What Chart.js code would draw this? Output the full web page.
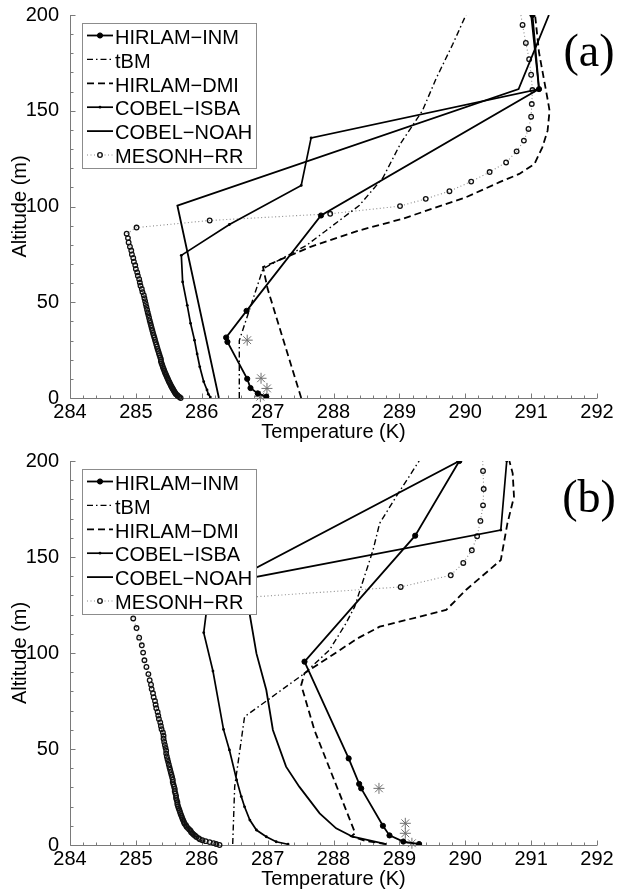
<!DOCTYPE html>
<html>
<head>
<meta charset="utf-8">
<script src="https://cdn.jsdelivr.net/npm/chart.js@4.4.1/dist/chart.umd.min.js"></script>
<style>
  html, body { margin: 0; padding: 0; background: #fff; }
  .panel { position: absolute; left: 0; width: 617px; }
  #wrapA { top: 0; height: 445px; }
  #wrapB { top: 445px; height: 446px; }
</style>
</head>
<body>
<div class="panel" id="wrapA"><canvas id="chartA" width="617" height="445"></canvas></div>
<div class="panel" id="wrapB"><canvas id="chartB" width="617" height="446"></canvas></div>
<script>
/* Temperature profiles, panels (a) and (b) */

const names = ['HIRLAM\u2212INM', 'tBM', 'HIRLAM\u2212DMI', 'COBEL\u2212ISBA', 'COBEL\u2212NOAH', 'MESONH\u2212RR'];
const xTicks = [284, 285, 286, 287, 288, 289, 290, 291, 292];
const yTicks = [0, 50, 100, 150, 200];

// ---- panel (a) ----
const inmA_T = [286.98, 286.85, 286.74, 286.69, 286.39, 286.37, 286.68, 287.81, 291.12, 291.02];
const inmA_z = [0.7, 2.4, 5.2, 10.0, 29.3, 31.6, 45.5, 95.3, 161.3, 200];
const tbmA_T = [286.57, 286.57, 286.93, 287.28, 287.59, 287.89, 288.39, 288.75, 289.02, 289.35, 289.56, 289.81, 290.01];
const tbmA_z = [0, 30, 67.5, 74, 79.7, 87.5, 100.5, 115, 133, 150, 167, 184.7, 200];
const dmiA_T = [287.51, 287.0, 286.93, 287.64, 288.39, 289.05, 290.01, 290.52, 290.82, 291.05, 291.17, 291.25, 291.28, 291.25, 291.12, 291.06];
const dmiA_z = [0, 57, 68.4, 78.8, 87.5, 93.6, 104.8, 112.7, 117, 122.2, 130.9, 139.6, 150, 156, 180.4, 200];
const isbaA_T = [286.13, 286.10, 286.08, 286.03, 285.97, 285.93, 285.89, 285.83, 285.78, 285.71, 285.69, 286.42, 287.51, 287.66, 291.12, 291.0];
const isbaA_z = [0.5, 2, 4.2, 8.5, 16.3, 23, 30.2, 39, 48.4, 60.6, 74.5, 90.6, 111, 135.8, 161.3, 200];
const noahA_T = [286.26, 285.63, 290.81, 291.27];
const noahA_z = [0, 100.5, 161.3, 200];

// MESONH-RR model levels (m), same for both panels
const mesoZ = [0, 0.5, 1, 1.5, 2, 2.5, 3, 3.6, 4.2, 4.8, 5.4, 6, 6.7, 7.4, 8.1, 8.8, 9.5, 10.3, 11.1, 11.9,
  12.7, 13.5, 14.4, 15.3, 16.2, 17.2, 18.2, 19.2, 20.2, 21.2, 22.3, 23.4, 24.5, 25.6, 26.8, 28, 29.2, 30.4,
  31.6, 32.8, 34, 35.3, 36.6, 37.9, 39.2, 40.5, 41.9, 43.3, 44.7, 46.1, 47.6, 49.1, 50.6, 52.1, 53.7, 55.3,
  56.9, 58.6, 60.3, 62, 63.8, 65.6, 67.4, 69.3, 71.2, 73.1, 75, 77, 79, 81.2, 83.5, 85.8,
  89, 92.7, 96.2, 100.2, 104, 108, 113, 118, 123, 128.8, 134.4, 140.5, 146.9, 153.5, 160.8, 168.8,
  176.9, 185.4, 194.8, 205];
const mesoA_T = [285.68, 285.66, 285.64, 285.63, 285.61, 285.60, 285.59, 285.58, 285.57, 285.56, 285.55, 285.54,
  285.53, 285.52, 285.51, 285.50, 285.49, 285.48, 285.47, 285.46, 285.45, 285.44, 285.43, 285.42, 285.41, 285.40,
  285.39, 285.38, 285.38, 285.37, 285.36, 285.35, 285.34, 285.33, 285.32, 285.31, 285.30, 285.29, 285.28, 285.27,
  285.26, 285.25, 285.24, 285.23, 285.22, 285.21, 285.20, 285.19, 285.18, 285.17, 285.16, 285.15, 285.14, 285.13,
  285.12, 285.10, 285.09, 285.07, 285.06, 285.05, 285.03, 285.02, 285.00, 284.99, 284.97, 284.96, 284.94, 284.93,
  284.91, 284.89, 284.88, 284.86,
  285.01, 286.12, 287.95, 289.01, 289.40, 289.76, 290.09, 290.37, 290.62, 290.78, 290.89, 290.96, 291.00, 291.01,
  291.02, 291.00, 290.97, 290.92, 290.87, 290.82];
const obsA_T = [286.69, 286.90, 286.99, 286.89];
const obsA_z = [30.2, 10.3, 5, 0.7];

// ---- panel (b) ----
const inmB_T = [289.3, 289.06, 288.85, 288.75, 288.42, 288.39, 288.23, 287.56, 289.24, 289.91];
const inmB_z = [0.5, 1.8, 5.0, 10.0, 29.5, 31.8, 45.1, 95.5, 161.1, 200];
const tbmB_T = [286.47, 286.5, 286.65, 287.56, 287.94, 288.19, 288.32, 288.6, 288.7, 288.95, 289.3];
const tbmB_z = [0.5, 30.4, 66.8, 89.4, 101.6, 115.5, 124, 153.6, 167.5, 181.4, 200];
const dmiB_T = [288.8, 288.5, 288.27, 288.33, 287.71, 287.51, 287.56, 288.37, 288.7, 289.71, 290.01, 290.54, 290.64, 290.74, 290.72, 290.67];
const dmiB_z = [0.5, 2, 4.5, 6.1, 59.9, 83.3, 89.4, 107.7, 113.7, 122.4, 132.8, 148.4, 167.5, 181.4, 193.6, 200];
const isbaB_T = [287.31, 287.13, 286.98, 286.83, 286.73, 286.65, 286.60, 286.53, 286.42, 286.33, 286.17, 286.03, 286.12, 290.54, 290.63];
const isbaB_z = [0.4, 1.7, 4.3, 7.8, 13, 19.9, 25.2, 33.9, 49.5, 60.2, 90.6, 110.6, 135, 164, 200];
const noahB_T = [288.8, 288.29, 288.04, 287.79, 287.48, 287.28, 287.08, 286.98, 286.83, 286.73, 286.6, 289.91];
const noahB_z = [0.5, 4.3, 8.7, 16.5, 30.4, 40.8, 59.9, 80.7, 99.8, 119.8, 140.2, 200];
const mesoB_T = [286.27, 286.22, 286.18, 286.12, 286.06, 286.01, 285.97, 285.95, 285.92, 285.90, 285.88, 285.86,
  285.84, 285.83, 285.81, 285.79, 285.77, 285.76, 285.74, 285.73, 285.72, 285.71, 285.70, 285.69, 285.68, 285.67,
  285.66, 285.65, 285.64, 285.63, 285.63, 285.62, 285.61, 285.61, 285.60, 285.59, 285.59, 285.58, 285.57, 285.56,
  285.56, 285.55, 285.54, 285.53, 285.52, 285.51, 285.50, 285.49, 285.48, 285.47, 285.46, 285.46, 285.45, 285.44,
  285.43, 285.42, 285.42, 285.41, 285.39, 285.38, 285.37, 285.35, 285.34, 285.33, 285.31, 285.30, 285.29, 285.27,
  285.26, 285.24, 285.23, 285.21,
  285.19, 285.16, 285.13, 285.11, 285.09, 285.05, 285.01, 284.96, 284.92, 286.60, 289.02, 289.78, 289.97, 290.10,
  290.18, 290.23, 290.27, 290.28, 290.27, 290.26];
const obsB_T = [288.69, 289.09, 289.09, 289.19];
const obsB_z = [29.5, 11.3, 6.1, 0.9];

const FONT = "'Liberation Sans', Arial, Helvetica, sans-serif";
Chart.defaults.font.family = FONT;
Chart.defaults.font.size = 20;
Chart.defaults.color = '#000';

function pts(T, z) {
  return T.map((t, i) => ({x: t, y: z[i]}));
}

function buildDatasets(inm, tbm, dmi, isba, noah, meso, obs) {
  const base = { showLine: true, borderColor: '#000', backgroundColor: '#000', pointRadius: 0, pointHoverRadius: 0 };
  return [
    { ...base, label: names[0], data: pts(inm[0], inm[1]), borderWidth: 1.8,
      pointRadius: 2.6, pointBackgroundColor: '#000', pointBorderColor: '#000', pointBorderWidth: 1 },
    { ...base, label: names[1], data: pts(tbm[0], tbm[1]), borderWidth: 1.4, borderDash: [6, 3, 1.5, 3] },
    { ...base, label: names[2], data: pts(dmi[0], dmi[1]), borderWidth: 1.8, borderDash: [7, 4] },
    { ...base, label: names[3], data: pts(isba[0], isba[1]), borderWidth: 1.7,
      pointRadius: 1.4, pointBackgroundColor: '#000', pointBorderColor: '#000', pointBorderWidth: 0 },
    { ...base, label: names[4], data: pts(noah[0], noah[1]), borderWidth: 1.8 },
    { ...base, label: names[5], data: pts(meso[0], meso[1]), borderWidth: 1.1, borderColor: '#8a8a8a',
      borderDash: [1, 2.5], pointRadius: 2.3, pointBorderWidth: 1.3, pointBorderColor: '#111',
      pointBackgroundColor: 'rgba(255,255,255,0)', clip: {left: 3, right: 3, top: 0, bottom: 4} },
    { label: '', data: pts(obs[0], obs[1]), showLine: false, pointStyle: 'star', pointRadius: 5.5,
      pointBorderColor: '#707070', pointBorderWidth: 1, pointHoverRadius: 0, clip: false }
  ];
}

// inward axis ticks, drawn under the curves
const axisTicks = {
  id: 'axisTicks',
  beforeDatasetsDraw(chart) {
    const {ctx, chartArea: ca, scales: {x, y}} = chart;
    ctx.save();
    ctx.strokeStyle = '#7a7a7a';
    ctx.lineWidth = 1;
    ctx.beginPath();
    const bx = Math.round(ca.left) + 0.5, by = Math.round(ca.bottom) + 0.5;
    ctx.moveTo(bx, ca.top);
    ctx.lineTo(bx, by);
    ctx.lineTo(ca.right, by);
    for (let i = 0; i <= 40; i++) {
      const px = Math.round(x.getPixelForValue(x.min + i * 0.2)) + 0.5;
      ctx.moveTo(px, by);
      ctx.lineTo(px, by - (i % 5 === 0 ? 5 : 3));
    }
    for (let i = 0; i <= 20; i++) {
      const py = Math.round(y.getPixelForValue(y.min + i * 10)) + 0.5;
      ctx.moveTo(bx, py);
      ctx.lineTo(bx + (i % 5 === 0 ? 5 : 3), py);
    }
    ctx.stroke();
    ctx.restore();
  }
};

// boxed legend in the upper-left corner plus the panel tag
const boxLegend = {
  id: 'boxLegend',
  afterDraw(chart, args, opts) {
    const {ctx, chartArea: ca} = chart;
    const x0 = ca.left + 12, y0 = ca.top + 8, w = 174, h = 145;
    ctx.save();
    ctx.fillStyle = '#fff';
    ctx.fillRect(x0, y0, w, h);
    ctx.strokeStyle = '#8c8c8c';
    ctx.lineWidth = 1;
    ctx.strokeRect(x0 + 0.5, y0 + 0.5, w, h);
    chart.data.datasets.filter(ds => ds.label).forEach((ds, i) => {
      const cy = y0 + 13.5 + i * 23.9;
      ctx.strokeStyle = ds.borderColor;
      ctx.lineWidth = ds.borderWidth;
      ctx.setLineDash(ds.borderDash || []);
      ctx.beginPath();
      ctx.moveTo(x0 + 5, cy - 1);
      ctx.lineTo(x0 + 31, cy - 1);
      ctx.stroke();
      ctx.setLineDash([]);
      if (ds.pointRadius > 0) {
        ctx.beginPath();
        ctx.arc(x0 + 18, cy - 1, ds.pointRadius, 0, Math.PI * 2);
        ctx.fillStyle = ds.pointBackgroundColor;
        ctx.fill();
        if (ds.pointBorderWidth) {
          ctx.lineWidth = ds.pointBorderWidth;
          ctx.strokeStyle = ds.pointBorderColor;
          ctx.stroke();
        }
      }
      ctx.fillStyle = '#000';
      ctx.font = '20px ' + FONT;
      ctx.textBaseline = 'alphabetic';
      ctx.textAlign = 'left';
      ctx.fillText(ds.label, x0 + 33, cy + 7.2);
    });
    ctx.font = "46px 'Liberation Serif', 'Times New Roman', serif";
    ctx.textAlign = 'center';
    ctx.textBaseline = 'middle';
    ctx.fillText(opts.tag, ca.right - 8, ca.top + 39);
    ctx.restore();
  }
};

function panelConfig(datasets, tag, padTop, xHeight, titlePad) {
  return {
    type: 'scatter',
    data: { datasets },
    options: {
      responsive: false,
      animation: false,
      events: [],
      layout: { padding: { top: padTop, right: 20, left: 0, bottom: 0 } },
      plugins: {
        legend: { display: false },
        tooltip: { enabled: false },
        boxLegend: { tag }
      },
      scales: {
        x: {
          type: 'linear', min: xTicks[0], max: xTicks[xTicks.length - 1],
          afterBuildTicks: s => { s.ticks = xTicks.map(v => ({value: v})); },
          grid: { display: false }, border: { display: false },
          ticks: { padding: -6, maxRotation: 0, minRotation: 0, autoSkip: false },
          title: { display: true, text: 'Temperature (K)', padding: { top: 0, bottom: titlePad } },
          afterFit: s => { s.height = xHeight; }
        },
        y: {
          type: 'linear', min: yTicks[0], max: yTicks[yTicks.length - 1],
          afterBuildTicks: s => { s.ticks = yTicks.map(v => ({value: v})); },
          grid: { display: false }, border: { display: false },
          ticks: { padding: 3, autoSkip: false },
          title: { display: true, text: 'Altitude (m)', padding: { top: 8, bottom: 0 } },
          afterFit: s => { s.width = 70; }
        }
      }
    },
    plugins: [axisTicks, boxLegend]
  };
}

new Chart(document.getElementById('chartA'), panelConfig(
  buildDatasets([inmA_T, inmA_z], [tbmA_T, tbmA_z], [dmiA_T, dmiA_z], [isbaA_T, isbaA_z],
                [noahA_T, noahA_z], [mesoA_T, mesoZ], [obsA_T, obsA_z]),
  '(a)', 14, 47, 1));

new Chart(document.getElementById('chartB'), panelConfig(
  buildDatasets([inmB_T, inmB_z], [tbmB_T, tbmB_z], [dmiB_T, dmiB_z], [isbaB_T, isbaB_z],
                [noahB_T, noahB_z], [mesoB_T, mesoZ], [obsB_T, obsB_z]),
  '(b)', 16, 46, 0));
</script>
</body>
</html>
